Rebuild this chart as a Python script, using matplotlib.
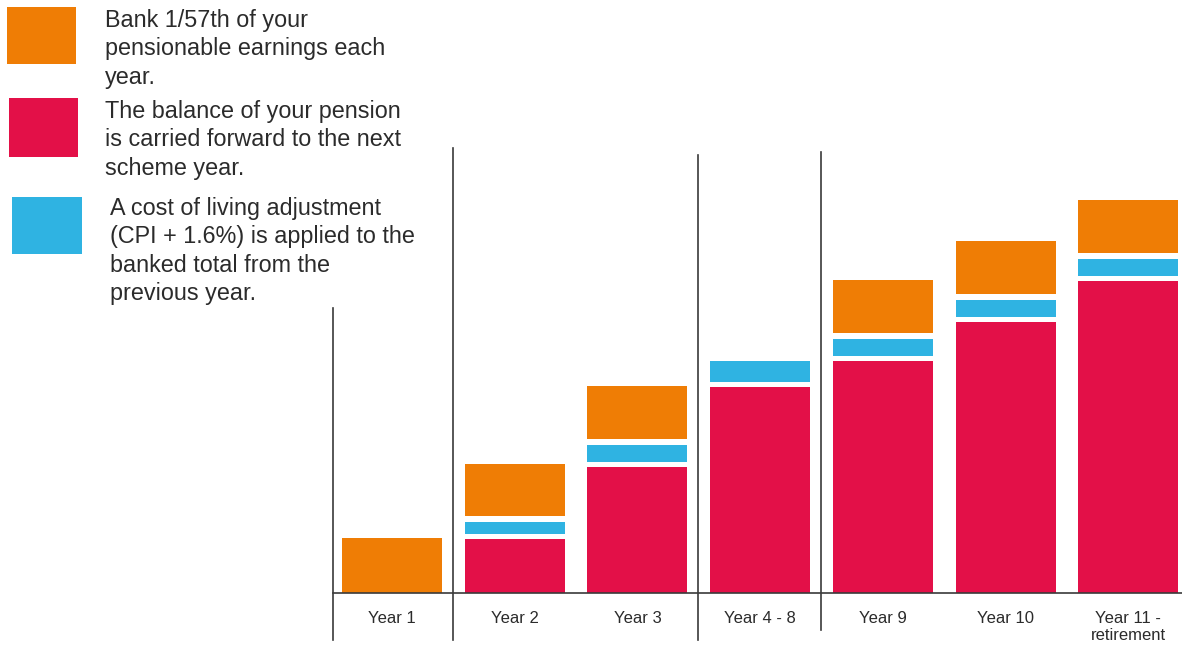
import numpy as np
import matplotlib.pyplot as plt

plt.rcParams['font.family'] = ['Liberation Sans', 'DejaVu Sans']

# scheme years and the three stacked pieces of the pension pot
years = ["Year 1", "Year 2", "Year 3", "Year 4 - 8", "Year 9", "Year 10", "Year 11 -\nretirement"]
carried = [0, 54, 126, 206, 232, 271, 312]      # balance carried forward
adjustment = [0, 12, 17, 21, 17, 17, 17]        # cost of living adjustment
banked = [55, 52, 53, 0, 53, 53, 53]            # 1/57th banked this year

ORANGE = '#EF7D05'
RED = '#E31048'
BLUE = '#2FB3E2'
TEXT = '#2b2b2b'
LINE = '#3a3a3a'
GAP = 5.5
WIDTH = 0.815

fig = plt.figure(figsize=(11.82, 6.47), dpi=100)
ax = fig.add_axes([333 / 1182, 54 / 647, 849 / 1182, 453 / 647])

x = np.arange(len(years))
bottom = np.zeros(len(years))
for vals, col in [(carried, RED), (adjustment, BLUE), (banked, ORANGE)]:
    vals = np.array(vals, dtype=float)
    start = np.where((bottom > 0) & (vals > 0), bottom + GAP, bottom)
    ax.bar(x, vals, WIDTH, bottom=start, color=col, linewidth=0)
    bottom = np.where(vals > 0, start + vals, bottom)

ax.set_xlim(-0.481, 6.438)
ax.set_ylim(0, 453)
for s in ['top', 'right', 'left']:
    ax.spines[s].set_visible(False)
ax.spines['bottom'].set_color(LINE)
ax.spines['bottom'].set_linewidth(1.2)
ax.set_yticks([])
ax.set_xticks(x)
ax.set_xticklabels(years, fontsize=12, color=TEXT, linespacing=1.15)
ax.tick_params(axis='x', length=0, pad=13)

# divider lines between the groups of years
dividers = [(-0.481, -47, 285), (0.497, -47, 445), (2.494, -47, 438), (3.496, -37, 441)]
for xd, lo, hi in dividers:
    ax.plot([xd, xd], [lo, hi], color=LINE, lw=1.2, clip_on=False)

# key down the left hand side
W, H = 1182, 647
key = [
    (ORANGE, (7, 7, 69, 57), (105, 9),
     "Bank 1/57th of your\npensionable earnings each\nyear."),
    (RED, (9, 98, 69, 59), (105, 100),
     "The balance of your pension\nis carried forward to the next\nscheme year."),
    (BLUE, (12, 197, 70, 57), (110, 197),
     "A cost of living adjustment\n(CPI + 1.6%) is applied to the\nbanked total from the\nprevious year."),
]
for col, (sx, sy, sw, sh), (tx, ty), label in key:
    fig.patches.append(plt.Rectangle((sx / W, 1 - (sy + sh) / H), sw / W, sh / H,
                                     transform=fig.transFigure, color=col, lw=0))
    fig.text(tx / W, 1 - ty / H, label, fontsize=16.8, color=TEXT,
             va='top', ha='left', linespacing=1.3)

fig.savefig('out.png', dpi=100)
